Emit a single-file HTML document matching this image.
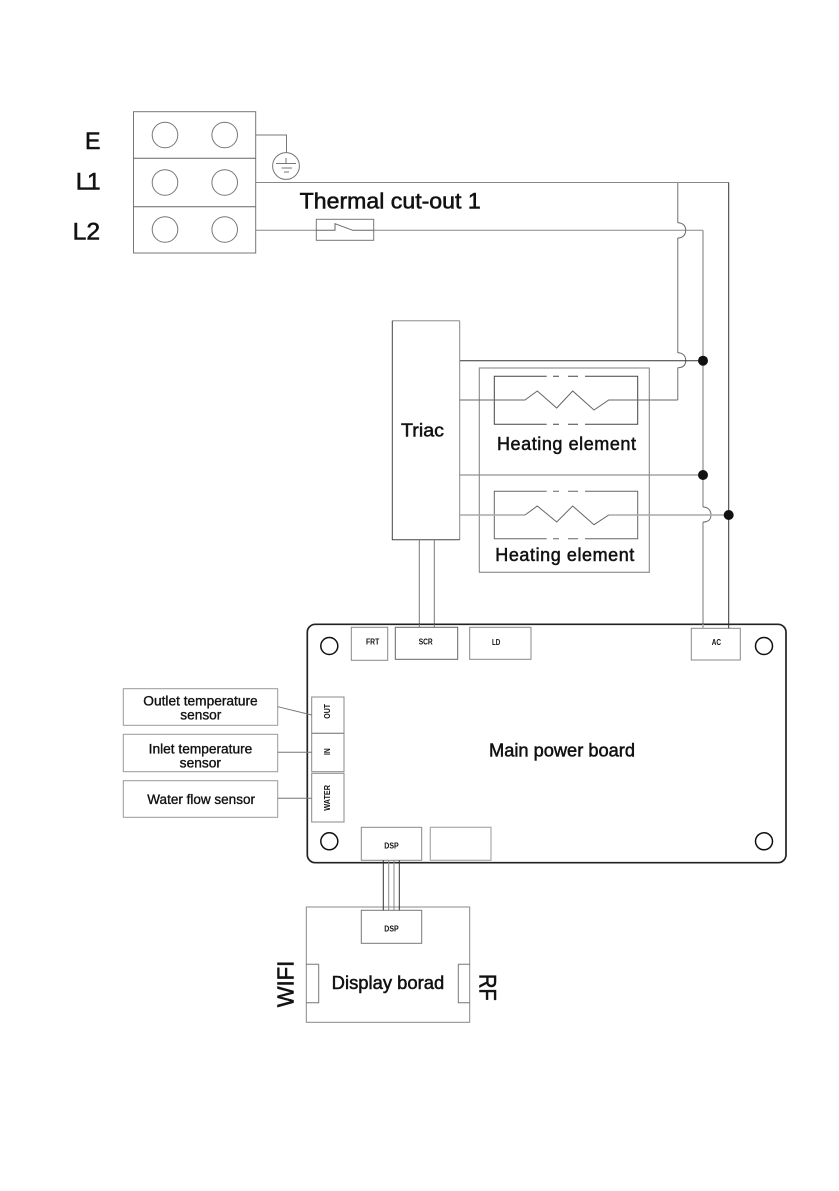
<!DOCTYPE html>
<html>
<head>
<meta charset="utf-8">
<style>
html,body{margin:0;padding:0;background:#fff;width:839px;height:1191px;overflow:hidden}
svg{display:block}
text{font-family:"Liberation Sans",Arial,sans-serif;fill:#111;stroke:#111;stroke-width:.25}
.t{stroke-width:.55}
.s{stroke-width:.5}
.m{stroke-width:.35}
.b{font-weight:bold;stroke:none;font-size:8px}
</style>
</head>
<body>
<svg width="839" height="1191" viewBox="0 0 839 1191" xmlns="http://www.w3.org/2000/svg">
<rect width="839" height="1191" fill="#fff"/>

<!-- terminal block -->
<g fill="none" stroke="#777" stroke-width="1">
<rect x="133.5" y="111.7" width="122.2" height="141.3"/>
<path d="M133.5 158.3H255.7M133.5 206.7H255.7" stroke="#666"/>
<circle cx="165" cy="135" r="12.8"/><circle cx="224.7" cy="135" r="12.8"/>
<circle cx="165" cy="182.5" r="12.8"/><circle cx="224.7" cy="182.5" r="12.8"/>
<circle cx="165" cy="229.5" r="12.8"/><circle cx="224.7" cy="229.5" r="12.8"/>
<!-- earth -->
<path d="M255.7 135H286.5V153"/>
<circle cx="286" cy="166" r="13.4"/>
<path d="M286 158V163.5M276 163.5H296M281.5 168H292M284 172H289"/>
<!-- L1 -->
<path d="M255.7 182.5H728.7" stroke="#888"/>
<!-- L2 with thermal cut-out -->
<path d="M255.7 230.3H316.3M373.7 230.3H703" stroke="#888"/>
<rect x="316.3" y="219.3" width="57.4" height="21"/>
<path d="M316.3 230.3H335V223.700L352.700 230.300H373.700" stroke="#666"/>
</g>

<!-- main verticals -->
<g fill="none">
<path d="M677.700 182.500V222.700M677.700 238V352.700M677.700 367.700V400" stroke="#999" stroke-width="1.400"/>
<path d="M677.700 222.700C683 222.700 685.700 226 685.700 230.300C685.700 234.600 683 238 677.700 238" stroke="#666" stroke-width="1"/>
<path d="M677.700 352.700C683 352.700 685.700 356 685.700 360.500C685.700 365 683 367.700 677.700 367.700" stroke="#666" stroke-width="1"/>
<path d="M703 230.300V507M703 522V627" stroke="#aaa" stroke-width="1.600"/>
<path d="M703 507C708 507 711 510.500 711 515C711 519.500 708 522 703 522" stroke="#666" stroke-width="1"/>
<path d="M728.700 182.500V627" stroke="#333" stroke-width="1"/>
<!-- triac feed lines -->
<path d="M459.700 360.700H703" stroke="#333" stroke-width="1"/>
<path d="M459.700 475H703" stroke="#777" stroke-width="1"/>
<!-- triac -->
<path d="M392.300 320.700H459.700" stroke="#aaa" stroke-width="1.300"/>
<path d="M459.700 320.700V539.700" stroke="#888" stroke-width="1"/>
<path d="M392.300 320.700V539.700H459.700" stroke="#444" stroke-width="1"/>
<path d="M419.300 539.700V627M434.300 539.700V627" stroke="#777" stroke-width="1"/>
<!-- outer heater box -->
<rect x="479.300" y="368" width="170" height="204.300" stroke="#888" stroke-width="1.100"/>
<!-- heater 1 -->
<path d="M546.700 376.300H494.300V424.300H546.700M553 376.300H559M568 376.300H578M585 376.300H637.700V424.300H585M553 424.300H559M568 424.300H578" stroke="#444" stroke-width="1"/>
<path d="M459.700 400H525L537.300 391L556.700 408L572.700 391L594 410L608.700 400H677.700" stroke="#666" stroke-width="1"/>
<!-- heater 2 -->
<path d="M546.700 491.300H494.300V538.700H546.700M553 491.300H559M568 491.300H578M585 491.300H637.700V538.700H585M553 538.700H559M568 538.700H578" stroke="#666" stroke-width="1"/>
<path d="M459.700 515H525M608.700 515H728.700" stroke="#aaa" stroke-width="1.500"/>
<path d="M525 515L537.300 506L556.700 522L572.700 506L594 524.700L608.700 515" stroke="#666" stroke-width="1"/>
</g>
<circle cx="703" cy="360.700" r="5" fill="#111"/>
<circle cx="703" cy="475" r="5" fill="#111"/>
<circle cx="728.700" cy="515" r="5" fill="#111"/>

<!-- main board -->
<g fill="none">
<rect x="307.300" y="624.300" width="478.700" height="238.400" rx="8" ry="8" fill="#fff" stroke="#222" stroke-width="1.700"/>
<circle cx="329.300" cy="646" r="8.500" stroke="#111" stroke-width="1.500"/>
<circle cx="329.300" cy="841.300" r="8.500" stroke="#111" stroke-width="1.500"/>
<circle cx="764" cy="646" r="8.500" stroke="#111" stroke-width="1.500"/>
<circle cx="764" cy="841.300" r="8.500" stroke="#111" stroke-width="1.500"/>
<g stroke="#888" stroke-width="1">
<rect x="351.300" y="627.300" width="36.400" height="33"/>
<rect x="395.300" y="627.300" width="62.400" height="32" stroke="#666"/>
<rect x="469.700" y="627.300" width="61.300" height="32"/>
<rect x="691.300" y="628.300" width="49" height="31.700"/>
<rect x="311.700" y="697" width="32.300" height="36.300"/>
<rect x="311.700" y="733.300" width="32.300" height="38.400"/>
<rect x="311.700" y="773.300" width="32.300" height="48.700"/>
<rect x="361.300" y="827.300" width="60.400" height="33"/>
<rect x="430.300" y="827.300" width="60.700" height="33" stroke="#aaa" stroke-width="1.200"/>
</g>
<path d="M419.300 624.300V627.300M434.300 624.300V627.300" stroke="#777"/>
<path d="M703 624.300V628.300" stroke="#aaa" stroke-width="1.600"/>
<path d="M728.700 624.300V628.300" stroke="#333"/>
<!-- sensors -->
<g stroke="#999" stroke-width="1">
<rect x="123.300" y="688.700" width="154.400" height="36.600"/>
<rect x="123.300" y="734.300" width="154.400" height="37.400"/>
<rect x="123.300" y="780.700" width="154.400" height="36.600"/>
</g>
<path d="M277.700 706.700L311.700 715M277.700 752.300H311.700M277.700 798.300H311.700" stroke="#777" stroke-width="1"/>
<!-- display board -->
<rect x="306.300" y="907" width="163.400" height="115.300" stroke="#888" stroke-width="1"/>
<rect x="361.300" y="910.300" width="60.400" height="33" fill="#fff" stroke="#777" stroke-width="1"/>
<path d="M383.300 860.300V910.300M399.300 860.300V910.300" stroke="#333" stroke-width="1"/>
<path d="M388.700 860.300V910.300M394 860.300V910.300" stroke="#888" stroke-width="1"/>
<path d="M318.700 964.300H306.300M318.700 964.300V1002.700H306.300" stroke="#777" stroke-width="1"/>
<path d="M458.300 964.300H469.700M458.300 964.300V1002.700H469.700" stroke="#777" stroke-width="1"/>
</g>

<!-- labels -->
<text x="85" y="149" font-size="24.500" class="t" textLength="15.500" lengthAdjust="spacingAndGlyphs">E</text>
<text x="75.700" y="189.300" font-size="24.500" class="t" textLength="25" lengthAdjust="spacing">L1</text>
<text x="72.700" y="239.300" font-size="24.500" class="t" textLength="27.500" lengthAdjust="spacingAndGlyphs">L2</text>
<text x="299.700" y="208.700" font-size="22" class="t" textLength="181" lengthAdjust="spacingAndGlyphs">Thermal cut-out 1</text>
<text x="401" y="436.700" font-size="18.500" class="s" textLength="43" lengthAdjust="spacingAndGlyphs">Triac</text>
<text x="497" y="450" font-size="18" class="s" textLength="139" lengthAdjust="spacing">Heating element</text>
<text x="495.300" y="561" font-size="18" class="s" textLength="139" lengthAdjust="spacing">Heating element</text>
<text x="489" y="756.700" font-size="18" class="s" textLength="146" lengthAdjust="spacingAndGlyphs">Main power board</text>
<text x="331.700" y="989" font-size="18" class="s" textLength="112.600" lengthAdjust="spacingAndGlyphs">Display borad</text>
<text transform="translate(293.300 1007.300) rotate(-90)" font-size="23.500" class="t" textLength="46.600" lengthAdjust="spacingAndGlyphs">WIFI</text>
<text transform="translate(479.300 974) rotate(90)" font-size="24" class="t" textLength="26.700" lengthAdjust="spacingAndGlyphs">RF</text>

<text x="143.300" y="705.300" font-size="13.500" class="m" textLength="114.400" lengthAdjust="spacingAndGlyphs">Outlet temperature</text>
<text x="180.300" y="719.300" font-size="13.500" class="m" textLength="41" lengthAdjust="spacingAndGlyphs">sensor</text>
<text x="148.700" y="753.300" font-size="13.500" class="m" textLength="103.600" lengthAdjust="spacingAndGlyphs">Inlet temperature</text>
<text x="179.700" y="767.300" font-size="13.500" class="m" textLength="41.300" lengthAdjust="spacingAndGlyphs">sensor</text>
<text x="147.300" y="804" font-size="13.500" class="m" textLength="107.700" lengthAdjust="spacingAndGlyphs">Water flow sensor</text>

<text x="366" y="644.700" class="b" textLength="13.300" lengthAdjust="spacingAndGlyphs">FRT</text>
<text x="418.700" y="644.700" class="b" textLength="14" lengthAdjust="spacingAndGlyphs">SCR</text>
<text x="492" y="645" class="b" textLength="8.300" lengthAdjust="spacingAndGlyphs">LD</text>
<text x="711.700" y="645" class="b" textLength="9.300" lengthAdjust="spacingAndGlyphs">AC</text>
<text x="384.300" y="848.300" class="b" textLength="14.400" lengthAdjust="spacingAndGlyphs">DSP</text>
<text x="384.300" y="931.300" class="b" textLength="14.400" lengthAdjust="spacingAndGlyphs">DSP</text>
<text transform="translate(330 718.700) rotate(-90)" class="b" textLength="14.700" lengthAdjust="spacingAndGlyphs">OUT</text>
<text transform="translate(330 755) rotate(-90)" class="b" textLength="6.700" lengthAdjust="spacingAndGlyphs">IN</text>
<text transform="translate(330 810.700) rotate(-90)" class="b" textLength="25.700" lengthAdjust="spacingAndGlyphs">WATER</text>
</svg>
</body>
</html>
